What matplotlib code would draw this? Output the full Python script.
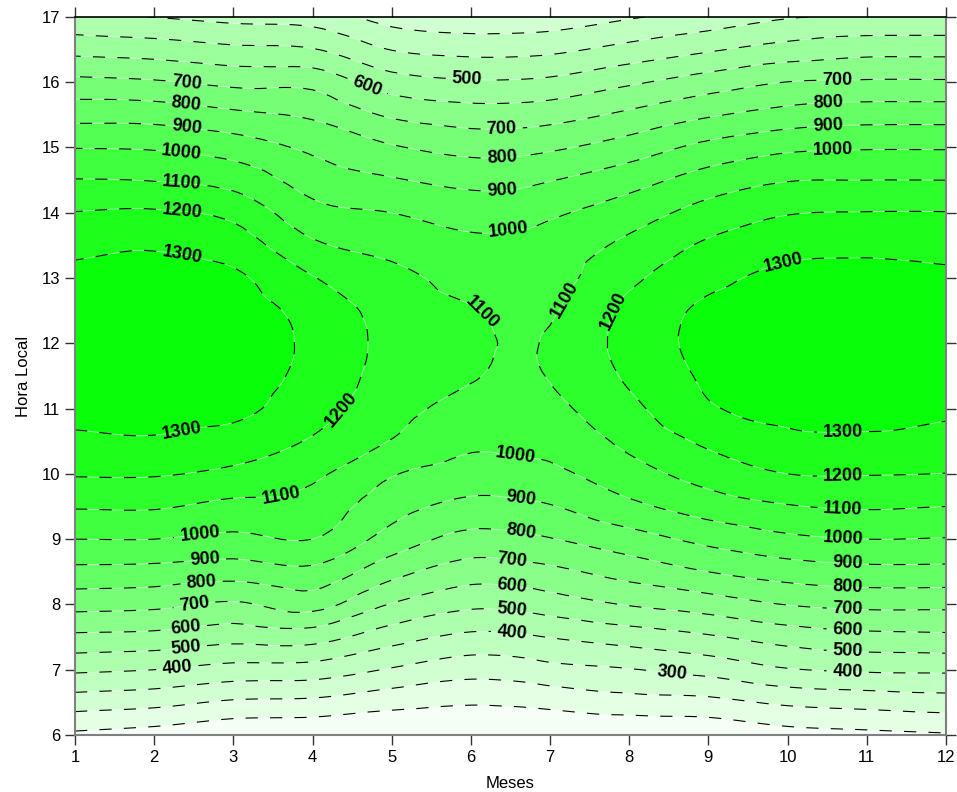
#!/usr/bin/env python3

import numpy as np
import matplotlib
matplotlib.use('Agg')
import matplotlib.pyplot as plt
import matplotlib.tri as mtri
from matplotlib.colors import LinearSegmentedColormap

plt.rcParams['font.family'] = ['Liberation Sans', 'DejaVu Sans']

# grid: columns are months, rows are local hours
meses = [1, 2, 3, 4, 5, 6, 6.5, 7, 8, 9, 10, 11, 12]
horas = [6.0, 6.5, 7.0, 7.5, 8.0, 8.5, 9.0, 9.5, 10.0, 10.5, 11.0, 11.5,
         12.0, 12.5, 13.0, 13.5, 14.0, 14.5, 15.0, 15.5, 16.0, 16.5, 17.0]

irr_m1 = [80, 248, 417, 579, 734, 871, 1000, 1108, 1208, 1280, 1330, 1355,
          1365, 1355, 1330, 1271, 1203, 1104, 997, 865, 726, 569, 420]
irr_m2 = [55, 229, 400, 569, 723, 864, 1000, 1110, 1208, 1289, 1335, 1360,
          1370, 1360, 1335, 1290, 1211, 1096, 990, 860, 711, 553, 398]
irr_m3 = [14, 186, 363, 535, 686, 844, 976, 1073, 1178, 1259, 1325, 1345,
          1350, 1345, 1318, 1253, 1174, 1063, 954, 822, 676, 522, 370]
irr_m4 = [10, 177, 356, 542, 738, 873, 1000, 1058, 1120, 1190, 1240, 1270,
          1280, 1265, 1205, 1117, 1033, 957, 879, 784, 670, 506, 355]
irr_m5 = [0, 134, 291, 442, 594, 734, 859, 940, 1007, 1096, 1135, 1160,
          1170, 1160, 1130, 1067, 1000, 909, 810, 686, 546, 397, 258]
irr_m6 = [0, 110, 239, 377, 521, 649, 767, 871, 956, 1021, 1070, 1106,
          1120, 1105, 1067, 1023, 960, 871, 767, 648, 511, 368, 230]
irr_m6_5 = [0, 115, 245, 380, 525, 655, 772, 875, 960, 1025, 1065, 1090,
            1095, 1088, 1065, 1030, 960, 871, 767, 648, 511, 368, 232]
irr_m7 = [0, 129, 270, 403, 551, 675, 795, 894, 977, 1032, 1078, 1104,
          1108, 1090, 1065, 1040, 985, 896, 785, 661, 523, 378, 240]
irr_m8 = [0, 161, 295, 445, 606, 739, 858, 976, 1060, 1124, 1175, 1215,
          1235, 1225, 1180, 1124, 1052, 960, 846, 721, 585, 433, 290]
irr_m9 = [16, 172, 333, 488, 648, 800, 927, 1047, 1141, 1219, 1290, 1315,
          1330, 1320, 1273, 1216, 1138, 1044, 928, 789, 648, 488, 336]
irr_m10 = [59, 217, 393, 542, 703, 846, 979, 1093, 1200, 1280, 1320, 1350,
           1362, 1352, 1325, 1268, 1194, 1095, 980, 837, 702, 538, 392]
irr_m11 = [75, 236, 413, 571, 724, 868, 1000, 1110, 1204, 1285, 1325, 1355,
           1370, 1360, 1335, 1275, 1203, 1100, 992, 857, 712, 566, 410]
irr_m12 = [90, 253, 417, 579, 724, 868, 995, 1100, 1198, 1264, 1318, 1345,
           1355, 1345, 1320, 1265, 1203, 1100, 992, 858, 712, 567, 412]

Z = np.column_stack([irr_m1, irr_m2, irr_m3, irr_m4, irr_m5, irr_m6, irr_m6_5,
                     irr_m7, irr_m8, irr_m9, irr_m10, irr_m11, irr_m12])

niveis = np.arange(0, 1500, 100)

# where the labels sit in the original
pos_labels = [
    (2.41, 16.02), (2.41, 15.70), (2.41, 15.33), (2.35, 14.93), (2.35, 14.50),
    (2.35, 14.01), (2.35, 13.34),
    (2.35, 10.64), (4.41, 10.94), (3.59, 9.76), (2.58, 9.07), (2.64, 8.67),
    (2.60, 8.32), (2.51, 7.98), (2.40, 7.64), (2.40, 7.34), (2.29, 7.05),
    (4.70, 15.96), (5.95, 16.05), (6.39, 15.27), (6.39, 14.84), (6.39, 14.34),
    (6.47, 13.72),
    (6.14, 12.47), (7.12, 12.70), (7.90, 12.44),
    (6.56, 10.25), (6.63, 9.65), (6.63, 9.13), (6.52, 8.70), (6.52, 8.30),
    (6.52, 7.93), (6.52, 7.58),
    (8.54, 6.96), (9.96, 13.20),
    (10.63, 16.05), (10.51, 15.71), (10.51, 15.35), (10.57, 14.96),
    (10.70, 10.64), (10.70, 9.99), (10.70, 9.45), (10.70, 9.02), (10.76, 8.61),
    (10.76, 8.26), (10.76, 7.92), (10.76, 7.58), (10.76, 7.28), (10.76, 6.98),
]

# smooth the coarse grid with matplotlib's cubic triangle interpolation
X, Y = np.meshgrid(meses, horas)
tri = mtri.Triangulation(X.ravel(), Y.ravel())
interp = mtri.CubicTriInterpolator(tri, Z.ravel(), kind='geom')
tri_f, z_f = mtri.UniformTriRefiner(tri).refine_field(
    Z.ravel(), triinterpolator=interp, subdiv=3)
z_f = np.clip(z_f, 0, None)

fig = plt.figure(figsize=(9.57, 7.92), dpi=100)
ax = fig.add_axes([0.0784, 0.072, 0.910, 0.9066])

verde = LinearSegmentedColormap.from_list('verde', ['#ffffff', '#00ff00'])
ax.tricontourf(tri_f, z_f, levels=niveis, cmap=verde, vmin=0, vmax=1400)
ax.tricontour(tri_f, z_f, levels=niveis[1:-1], colors='white',
              linewidths=0.6, alpha=0.6)
cs = ax.tricontour(tri_f, z_f, levels=niveis[1:-1], colors='black',
                   linewidths=0.8)
cs.set_linestyle((0, (11, 11)))

txts = ax.clabel(cs, manual=pos_labels, fmt='%d', inline=True,
                 inline_spacing=6, fontsize=13, colors='black')
for t in txts:
    t.set_fontweight('bold')

ax.set_xlim(1, 12)
ax.set_ylim(6, 17)
ax.set_xticks(range(1, 13))
ax.set_yticks(range(6, 18))
ax.tick_params(direction='out', length=7, width=1, top=True, right=True,
               labelsize=12, colors='#333333', labelcolor='black')

for s in ['left', 'bottom', 'right']:
    ax.spines[s].set_color('#808080')
    ax.spines[s].set_linewidth(1.5)
ax.spines['top'].set_color('black')
ax.spines['top'].set_linewidth(1.2)

ax.set_xlabel('Meses', fontsize=12, labelpad=8)
ax.set_ylabel('Hora Local', fontsize=12, labelpad=8)

fig.savefig('out.png', dpi=100)
